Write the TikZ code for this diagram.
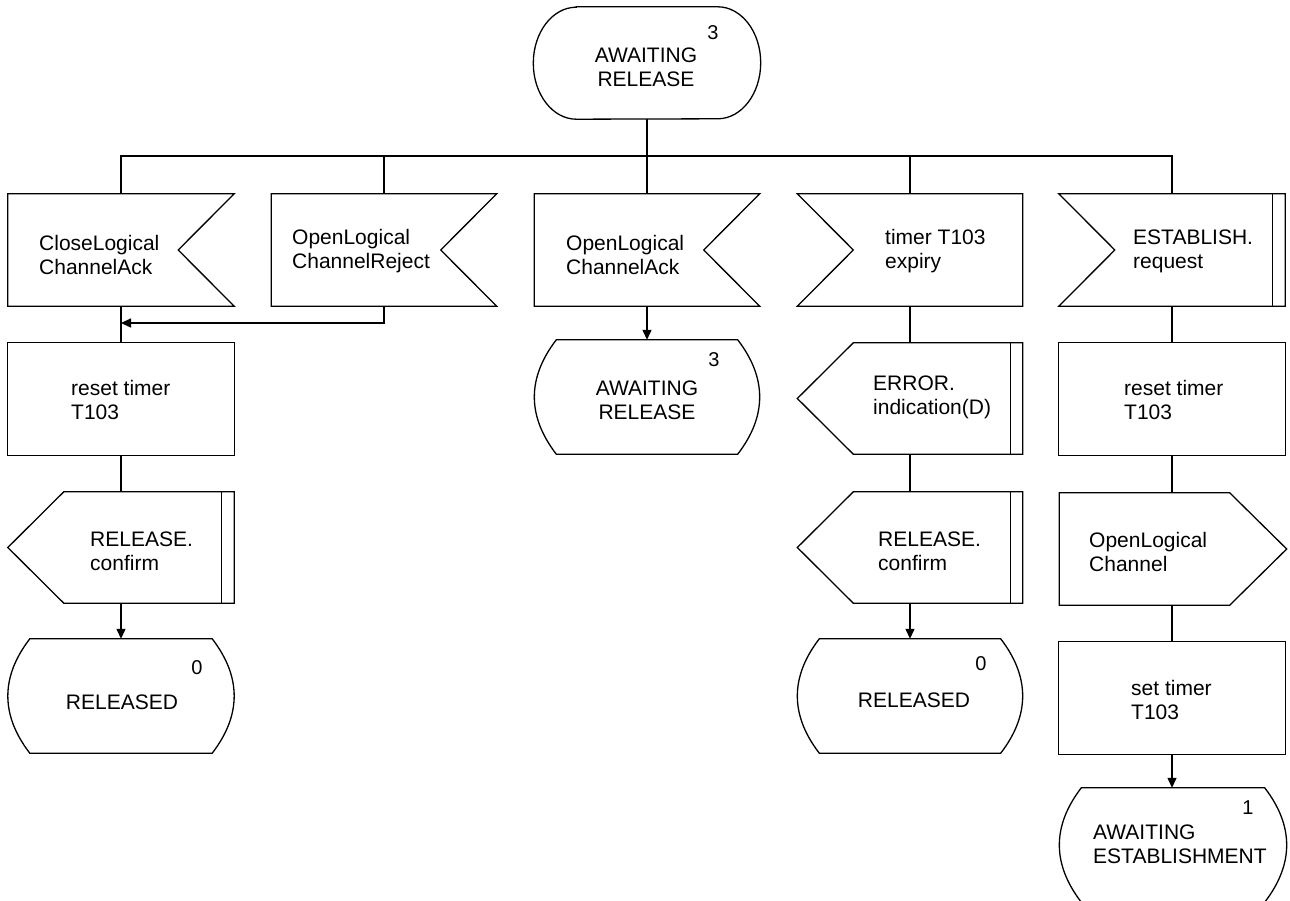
\documentclass[tikz,border=0pt]{standalone}
\usepackage{fontspec}
\setmainfont{Liberation Sans}
\usetikzlibrary{arrows.meta,calc}
\tikzset{
  shp/.style={line width=1.3pt, line join=miter},
  ln/.style={line width=1.3pt},
  arr/.style={line width=1.3pt, -{Triangle[length=10pt,width=9pt]}},
  frame/.style={minimum width=226pt, minimum height=112pt, inner sep=0pt, draw=none},
  sframe/.style={frame, minimum height=114pt},
  txt/.style={font=\fontsize{21}{24}\selectfont, align=left, inner sep=0pt, anchor=west},
  ctxt/.style={font=\fontsize{21}{24}\selectfont, align=center, inner sep=0pt},
  num/.style={font=\fontsize{20}{22}\selectfont, inner sep=0pt}
}
\newcommand{\shpRecvR}[1]{\draw[shp] (#1.north west) -- (#1.north east) -- ([xshift=-56pt]#1.east) -- (#1.south east) -- (#1.south west) -- cycle;}
\newcommand{\shpRecvL}[1]{\draw[shp] (#1.north west) -- (#1.north east) -- (#1.south east) -- (#1.south west) -- ([xshift=56pt]#1.west) -- cycle;}
\newcommand{\shpSendL}[1]{\draw[shp] ([xshift=56pt]#1.north west) -- (#1.north east) -- (#1.south east) -- ([xshift=56pt]#1.south west) -- (#1.west) -- cycle;}
\newcommand{\shpSendR}[1]{\draw[shp] (#1.north west) -- ([xshift=-57pt]#1.north east) -- (#1.east) -- ([xshift=-57pt]#1.south east) -- (#1.south west) -- cycle;}
\newcommand{\shpBar}[1]{\draw[shp] ([xshift=-12.5pt]#1.north east) -- ([xshift=-12.5pt]#1.south east);}
\newcommand{\shpTask}[1]{\draw[shp] (#1.north west) rectangle (#1.south east);}
\newcommand{\shpState}[1]{\draw[shp] ([xshift=22pt]#1.north west) -- ([xshift=-22pt]#1.north east)
  .. controls ($(#1.north east)!0.333!(#1.south east)+(7.3pt,0)$) and ($(#1.north east)!0.667!(#1.south east)+(7.3pt,0)$) .. ([xshift=-22pt]#1.south east)
  -- ([xshift=22pt]#1.south west)
  .. controls ($(#1.north west)!0.667!(#1.south west)+(-7.3pt,0)$) and ($(#1.north west)!0.333!(#1.south west)+(-7.3pt,0)$) .. cycle;}
\begin{document}
\begin{tikzpicture}[x=1pt,y=-1pt]
\useasboundingbox (0,0) rectangle (1290,901);
% frames
\node[frame, minimum width=227pt] (start) at (647,63) {};
\node[frame] (cla) at (121,250) {};
\node[frame, minimum width=225pt] (olr) at (384,250) {};
\node[frame, minimum width=225pt] (ola) at (647,250) {};
\node[frame, minimum width=225pt] (tex) at (910,250) {};
\node[frame] (est) at (1172,250) {};
\node[frame] (rt1) at (121,399) {};
\node[frame, minimum width=225pt, minimum height=111pt] (err) at (910,398.5) {};
\node[frame] (rt2) at (1172,399) {};
\node[frame, minimum height=111pt] (rc1) at (121,547.5) {};
\node[frame, minimum width=225pt, minimum height=111pt] (rc2) at (910,547.5) {};
\node[frame, minimum width=227pt] (olc) at (1173,549) {};
\node[sframe] (rs1) at (121,696) {};
\node[sframe, minimum width=225pt] (aw2) at (647,397) {};
\node[sframe, minimum width=225pt] (rs2) at (910,696) {};
\node[frame] (st) at (1172,698) {};
\node[sframe, minimum width=227pt] (ae) at (1173,845) {};
% start shape
\draw[shp] ([xshift=43pt]start.north west) -- ([xshift=-43pt]start.north east)
  arc[start angle=90,end angle=-90,x radius=43pt,y radius=56pt]
  -- ([xshift=43pt]start.south west)
  arc[start angle=270,end angle=90,x radius=43pt,y radius=56pt] -- cycle;
\shpRecvR{cla}\shpRecvR{olr}\shpRecvR{ola}
\shpRecvL{tex}\shpRecvL{est}\shpBar{est}
\shpTask{rt1}\shpTask{rt2}\shpTask{st}
\shpSendL{err}\shpBar{err}
\shpSendL{rc1}\shpBar{rc1}
\shpSendL{rc2}\shpBar{rc2}
\shpSendR{olc}
\shpState{rs1}\shpState{aw2}\shpState{rs2}\shpState{ae}
% texts
\node[ctxt] (tstart) at (646,67) {AWAITING\\RELEASE};
\node[num] (nstart) at (713,33) {3};
\node[txt] (tcla) at (39,255) {CloseLogical\\ChannelAck};
\node[txt] (tolr) at (292,251) {OpenLogical\\ChannelReject};
\node[txt] (tola) at (566,255) {OpenLogical\\ChannelAck};
\node[txt] (ttex) at (885,251) {timer T103\\expiry};
\node[txt] (test) at (1133,251) {ESTABLISH.\\request};
\node[txt] (trt1) at (71,400) {reset timer\\T103};
\node[txt] (terr) at (873,397) {ERROR.\\indication(D)};
\node[txt] (trt2) at (1124,400) {reset timer\\T103};
\node[txt] (trc1) at (90,551) {RELEASE.\\confirm};
\node[txt] (trc2) at (878,551) {RELEASE.\\confirm};
\node[txt] (tolc) at (1089,552) {OpenLogical\\Channel};
\node[txt] (tst) at (1131,700) {set timer\\T103};
\node[ctxt] (trs1) at (122,702) {RELEASED};
\node[num] (nrs1) at (197,668) {0};
\node[ctxt] (trs2) at (914,700) {RELEASED};
\node[num] (nrs2) at (981,664) {0};
\node[ctxt] (taw2) at (647,400) {AWAITING\\RELEASE};
\node[num] (naw2) at (714,360) {3};
\node[txt] (tae) at (1093,844) {AWAITING\\ESTABLISHMENT};
\node[num] (nae) at (1248,808) {1};
% connectors
\coordinate (busy) at (0,156);
\coordinate (rejy) at (0,323);
\draw[ln] (start.south) -- (start.south |- busy);
\draw[ln] (cla.north) |- (est.north |- busy) -- (est.north);
\draw[ln] (olr.north) -- (olr.north |- busy);
\draw[ln] (ola.north) -- (ola.north |- busy);
\draw[ln] (tex.north) -- (tex.north |- busy);
\draw[ln] (cla.south) -- (rt1.north);
\draw[arr] (olr.south) |- (cla.south |- rejy);
\draw[ln] (rt1.south) -- (rc1.north);
\draw[arr] (rc1.south) -- (rs1.north);
\draw[arr] (ola.south) -- (aw2.north);
\draw[ln] (tex.south) -- (err.north);
\draw[ln] (err.south) -- (rc2.north);
\draw[arr] (rc2.south) -- (rs2.north);
\draw[ln] (est.south) -- (rt2.north);
\draw[ln] (rt2.south) -- (olc.north -| rt2.south);
\draw[ln] (olc.south -| st.north) -- (st.north);
\draw[arr] (st.south) -- (ae.north -| st.south);
\end{tikzpicture}
\end{document}
